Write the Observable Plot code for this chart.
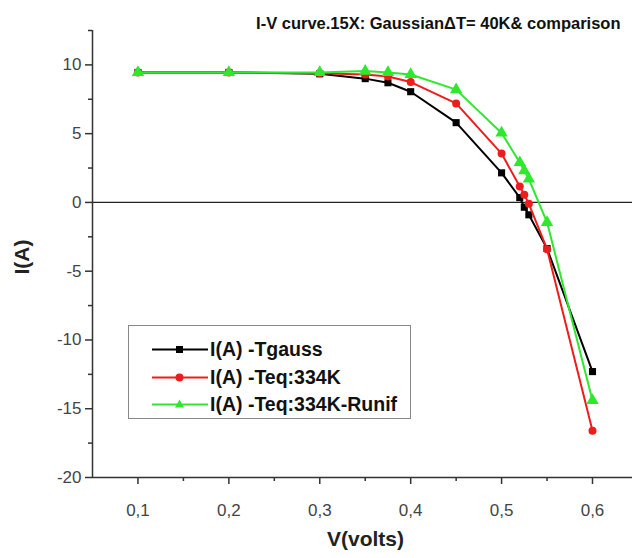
<!DOCTYPE html>
<html>
<head>
<meta charset="utf-8">
<script src="https://cdn.jsdelivr.net/npm/d3@7"></script>
<script src="https://cdn.jsdelivr.net/npm/@observablehq/plot@0.6"></script>
<style>
  html, body { margin: 0; padding: 0; background: #fff; overflow: hidden; }
  #wrap { position: relative; width: 632px; height: 558px; font-family: "Liberation Sans", Arial, sans-serif; }
  #legend { position: absolute; left: 128px; top: 325px; width: 283px; height: 94px; border: 1px solid #888; background: #fff; box-sizing: border-box; }
  .row { position: absolute; left: 22px; height: 22px; display: flex; align-items: center; font-weight: bold; font-size: 19.5px; color: #111; white-space: nowrap; }
  .row svg { margin-right: 1px; }
</style>
</head>
<body>
<div id="wrap"></div>
<script>
// ---- data ----
const V = [0.1, 0.2, 0.3, 0.35, 0.375, 0.4, 0.45, 0.5, 0.52, 0.525, 0.53, 0.55, 0.6];
const Tgauss = [9.45, 9.45, 9.35, 9.0, 8.7, 8.05, 5.8, 2.15, 0.35, -0.35, -0.9, -3.35, -12.3];
const Teq334 = [9.45, 9.45, 9.4, 9.3, 9.15, 8.75, 7.2, 3.55, 1.15, 0.55, -0.1, -3.4, -16.6];
const Teq334Runif = [9.45, 9.45, 9.45, 9.55, 9.45, 9.3, 8.2, 5.05, 2.9, 2.3, 1.7, -1.45, -14.4];

const seriesNames = ["I(A) -Tgauss", "I(A) -Teq:334K", "I(A) -Teq:334K-Runif"];
const seriesColors = ["#000000", "#ee1c1c", "#2ee82e"];
const seriesSymbols = ["square", "circle", "triangle"];

const xMajor = [0.1, 0.2, 0.3, 0.4, 0.5, 0.6];
const xMinor = [0.15, 0.25, 0.35, 0.45, 0.55];
const yMajor = [-20, -15, -10, -5, 0, 5, 10];
const yMinor = [-17.5, -12.5, -7.5, -2.5, 2.5, 7.5, 12.5];

const titleText = "I-V curve.15X: Gaussian\u0394T= 40K& comparison";
const xLabel = "V(volts)";
const yLabel = "I(A)";

// ---- build table ----
const allSeries = [Tgauss, Teq334, Teq334Runif];
const rows = [];
allSeries.forEach((vals, si) => vals.forEach((v, i) => rows.push({series: seriesNames[si], V: V[i], I: v})));

const lineMarks = [];
seriesNames.forEach((name, si) => {
  const d = rows.filter(r => r.series === name);
  lineMarks.push(Plot.line(d, {x: "V", y: "I", stroke: seriesColors[si], strokeWidth: 2}));
  lineMarks.push(Plot.dot(d, {x: "V", y: "I", fill: seriesColors[si], stroke: "none", symbol: seriesSymbols[si], r: si === 2 ? 4.6 : 4}));
});

const chart = Plot.plot({
  width: 632,
  height: 558,
  marginLeft: 92,
  marginRight: 0,
  marginTop: 30,
  marginBottom: 81,
  x: {domain: [0.05, 0.644]},
  y: {domain: [-20, 12.5]},
  style: {fontFamily: "'Liberation Sans', Arial, sans-serif", fontSize: "17px", color: "#333", background: "#fff"},
  marks: [
    Plot.ruleY([0], {stroke: "#222", strokeWidth: 1.4}),
    ...lineMarks,
    Plot.ruleX([0.05], {stroke: "#333", strokeWidth: 1.5}),
    Plot.ruleY([-20], {stroke: "#333", strokeWidth: 1.5}),
    Plot.axisX({ticks: xMajor, tickSize: 7, tickPadding: 19, tickFormat: d => d.toFixed(1).replace(".", ","), label: null, stroke: "#333", strokeWidth: 1.5, fill: "#444"}),
    Plot.axisX({ticks: xMinor, tickSize: 4, tickFormat: () => "", label: null, stroke: "#333", strokeWidth: 1.5}),
    Plot.axisY({ticks: yMajor, tickSize: 7, tickPadding: 4, tickFormat: d => String(d), label: null, stroke: "#333", strokeWidth: 1.5, fill: "#444"}),
    Plot.axisY({ticks: yMinor, tickSize: 4, tickFormat: () => "", label: null, stroke: "#333", strokeWidth: 1.5}),
    Plot.text([xLabel], {frameAnchor: "bottom", textAnchor: "middle", dx: 3, dy: 68, fontSize: 21, fontWeight: "bold", fill: "#222"}),
    Plot.text([yLabel], {frameAnchor: "left", textAnchor: "middle", dx: -70, dy: 3, rotate: -90, fontSize: 21, fontWeight: "bold", fill: "#222"}),
    Plot.text([titleText], {frameAnchor: "top-right", textAnchor: "end", dx: -12, dy: -13, fontSize: 16.5, fontWeight: "bold", fill: "#111"})
  ]
});

const wrap = document.getElementById("wrap");
wrap.appendChild(chart);

// ---- legend ----
const legend = document.createElement("div");
legend.id = "legend";
const rowTops = [12, 40, 67];
seriesNames.forEach((name, si) => {
  const row = document.createElement("div");
  row.className = "row";
  row.style.top = rowTops[si] + "px";
  const c = seriesColors[si];
  let marker;
  if (si === 0) marker = `<rect x="25" y="7" width="7" height="7" fill="${c}"/>`;
  else if (si === 1) marker = `<circle cx="28.5" cy="10.5" r="4" fill="${c}"/>`;
  else marker = `<path d="M28.5,5.5 L33,13.5 L24,13.5 Z" fill="${c}"/>`;
  row.innerHTML = `<svg width="58" height="21"><line x1="1" y1="10.5" x2="57" y2="10.5" stroke="${c}" stroke-width="2.2"/>${marker}</svg><span>${name}</span>`;
  legend.appendChild(row);
});
wrap.appendChild(legend);
</script>
</body>
</html>
